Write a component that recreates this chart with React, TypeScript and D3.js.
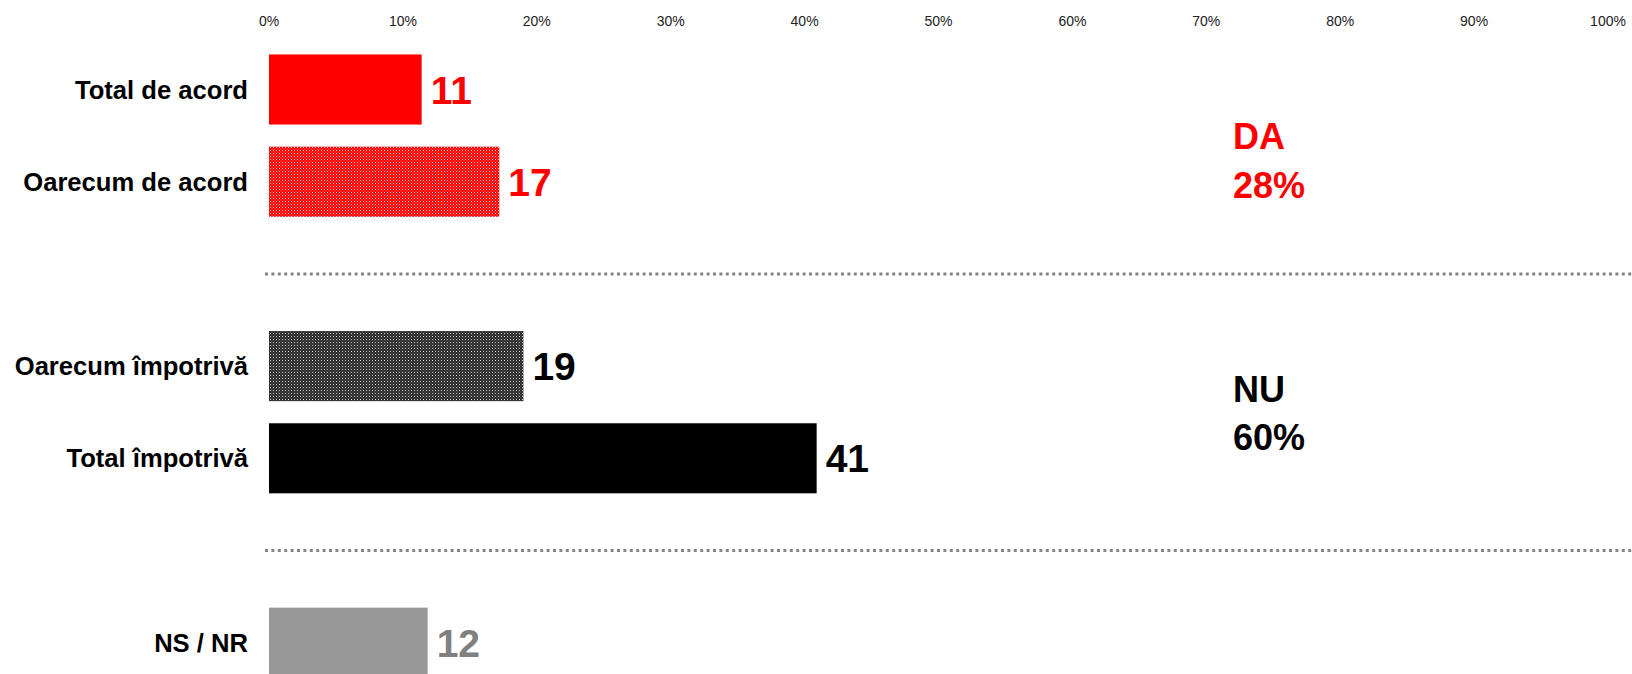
import React from "react";
import * as d3 from "d3";

const categories = ["Total de acord", "Oarecum de acord", "Oarecum împotrivă", "Total împotrivă", "NS / NR"];
const values = [11.4, 17.2, 19.0, 40.9, 11.85];
const slots = ["r0", "r1", "r2", "r3", "r4", "r5", "r6"];
const barSlots = ["r0", "r1", "r3", "r4", "r6"];
const dividerSlots = ["r2", "r5"];
const tickValues = [0, 10, 20, 30, 40, 50, 60, 70, 80, 90, 100];
const groupLabels = [
  { title: "DA", total: "28%" },
  { title: "NU", total: "60%" },
];

const fills = ["#ff0000", "url(#patRed)", "url(#patBlack)", "#000000", "#999999"];
const labelColors = ["#ff0000", "#ff0000", "#000000", "#000000", "#808080"];
const groupColors = ["#ff0000", "#000000"];
const groupPos = [
  { x: 1233, y1: 149, y2: 198 },
  { x: 1233, y1: 402, y2: 450 },
];

const W = 1632;
const H = 674;
const FONT = "'Liberation Sans', Arial, Helvetica, sans-serif";

export default function App() {
  const x = d3.scaleLinear().domain([0, 100]).range([269, 1608]);
  const y = d3
    .scaleBand<string>()
    .domain(slots)
    .range([43.4, 688.8])
    .paddingInner(0.24)
    .paddingOuter(0.12);
  const bw = y.bandwidth();

  return (
    <svg
      width={W}
      height={H}
      style={{ position: "absolute", left: 0, top: 0, display: "block", background: "#fff" }}
      fontFamily={FONT}
    >
      <defs>
        <pattern id="patRed" width={3} height={3} patternUnits="userSpaceOnUse">
          <rect width={3} height={3} fill="#ff0000" />
          <rect x={0} y={0} width={1} height={1} fill="#ffd0d0" />
          <rect x={1.5} y={1.5} width={1} height={1} fill="#ff8080" />
        </pattern>
        <pattern id="patBlack" width={3} height={3} patternUnits="userSpaceOnUse">
          <rect width={3} height={3} fill="#2a2a2a" />
          <rect x={0} y={0} width={1} height={1} fill="#d0d0d0" />
          <rect x={1.5} y={1.5} width={1} height={1} fill="#707070" />
        </pattern>
      </defs>

      {tickValues.map((t) => (
        <text key={t} x={x(t)} y={26} textAnchor="middle" fontSize={14} fill="#222">
          {t + "%"}
        </text>
      ))}

      {dividerSlots.map((s) => {
        const cy = (y(s) as number) + bw / 2;
        return (
          <line
            key={s}
            x1={265}
            x2={W}
            y1={cy}
            y2={cy}
            stroke="#858585"
            strokeWidth={3}
            strokeDasharray="3 3.4"
          />
        );
      })}

      {categories.map((c, i) => {
        const top = y(barSlots[i]) as number;
        const cy = top + bw / 2;
        return (
          <g key={c}>
            <rect x={x(0)} y={top} width={x(values[i]) - x(0)} height={bw} fill={fills[i]} />
            <text x={248} y={cy + 9} textAnchor="end" fontSize={25.6} fontWeight="bold" fill="#000">
              {c}
            </text>
            <text
              x={x(values[i]) + 9}
              y={cy + 14}
              fontSize={39}
              fontWeight="bold"
              fill={labelColors[i]}
            >
              {Math.round(values[i])}
            </text>
          </g>
        );
      })}

      {groupLabels.map((g, i) => (
        <g key={g.title} fill={groupColors[i]} fontSize={36} fontWeight="bold">
          <text x={groupPos[i].x} y={groupPos[i].y1}>
            {g.title}
          </text>
          <text x={groupPos[i].x} y={groupPos[i].y2}>
            {g.total}
          </text>
        </g>
      ))}
    </svg>
  );
}
